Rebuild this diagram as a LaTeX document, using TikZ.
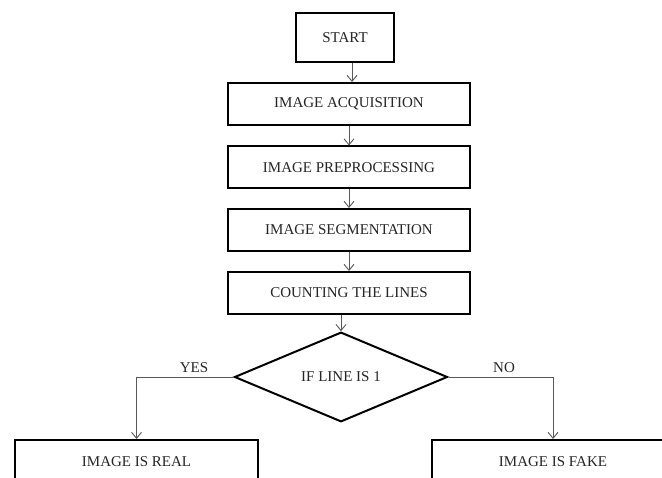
\documentclass[tikz,border=0pt]{standalone}
\usepackage{fontspec}
\setmainfont{Liberation Serif}
\usetikzlibrary{shapes.geometric,arrows.meta}
\begin{document}
\begin{tikzpicture}[x=1pt,y=-1pt,
  box/.style={draw=black,line width=2pt,inner sep=0pt,minimum width=242pt,minimum height=42pt,font=\fontsize{15}{17}\selectfont,text=black!85},
  dia/.style={draw=black,line width=2pt,diamond,inner sep=0pt,minimum width=213pt,minimum height=84pt,font=\fontsize{15}{17}\selectfont,text=black!85},
  arr/.style={draw=black!65,line width=0.9pt,-{Straight Barb[length=6pt,width=10pt]}},
  lbl/.style={font=\fontsize{15}{17}\selectfont,text=black!85,inner sep=0pt}]
\useasboundingbox (0,0) rectangle (662,478);
\clip (0,0) rectangle (662,478);
\fill[white] (0,0) rectangle (662,478);
\node[box,minimum width=98pt,minimum height=49pt] (start) at (345,37.5) {START};
\node[box] (acq) at (349,104) {IMAGE ACQUISITION};
\node[box] (pre) at (349,167.5) {IMAGE PREPROCESSING};
\node[box] (seg) at (349,230) {IMAGE SEGMENTATION};
\node[box] (cnt) at (349,293) {COUNTING THE LINES};
\node[dia] (dec) at (341,377) {IF LINE IS 1};
\node[box,minimum width=243pt,minimum height=44pt] (real) at (136.5,462) {IMAGE IS REAL};
\node[box,minimum width=243pt,minimum height=44pt] (fake) at (553,462) {IMAGE IS FAKE};
\node[lbl] (yes) at (194,368) {YES};
\node[lbl] (no) at (504,368) {NO};
\coordinate (c1) at (352,0);
\draw[arr] (start.south -| c1) -- (acq.north -| c1);
\draw[arr] (acq.south) -- (pre.north);
\draw[arr] (pre.south) -- (seg.north);
\draw[arr] (seg.south) -- (cnt.north);
\draw[arr] (cnt.south -| dec.north) -- (dec.north);
\draw[arr] (dec.west) -| (real.north);
\draw[arr] (dec.east) -| (fake.north);
\end{tikzpicture}
\end{document}
